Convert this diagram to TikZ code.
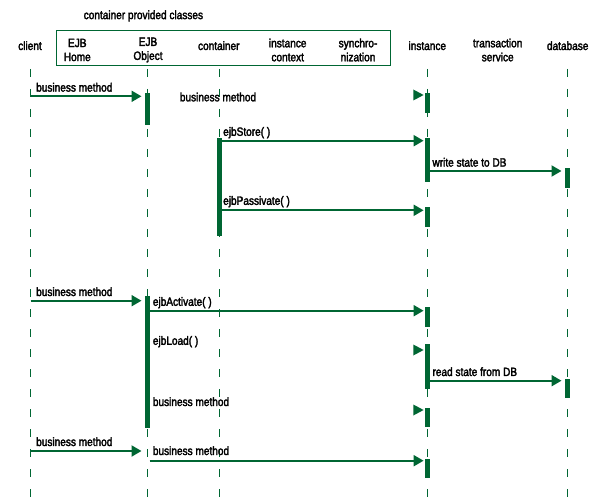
\documentclass[tikz,border=0pt]{standalone}
\usepackage{fontspec}
\setmainfont{Liberation Sans}[FakeStretch=0.84,FakeBold=2.5]
\usetikzlibrary{arrows.meta}
\definecolor{ejbgreen}{RGB}{0,102,51}
\begin{document}
\begin{tikzpicture}[x=1pt,y=-1pt,
  lifeline/.style={draw=ejbgreen, line width=1pt, dash pattern=on 8pt off 12pt},
  msg/.style={draw=ejbgreen, line width=2pt, shorten >=2.5pt, -{Triangle[length=10pt,width=11pt]}},
  actbar/.style={fill=ejbgreen, draw=none, minimum width=4.8pt, inner sep=0pt, rectangle},
  lbl/.style={font=\fontsize{12}{14}\selectfont, inner sep=0pt, anchor=west},
  hdr/.style={font=\fontsize{12}{14}\selectfont, inner sep=0pt, align=center},
  grp/.style={draw=ejbgreen, line width=1.2pt}]
\useasboundingbox (0,0) rectangle (610,500);

% title and group box
\node[hdr] (title) at (143.4,16) {container provided classes};
\draw[grp] (56.3,30.7) rectangle (390.7,65.3);

% headers
\node[hdr] (hclient) at (30,45.7) {client};
\node[hdr] (hhome) at (77.3,50) {EJB\\Home};
\node[hdr] (hobj) at (148,50) {EJB\\Object};
\node[hdr] (hcont) at (218.8,45.7) {container};
\node[hdr] (hctx) at (287.7,50) {instance\\context};
\node[hdr] (hsync) at (358,50) {synchro-\\nization};
\node[hdr] (hinst) at (427.3,45.7) {instance};
\node[hdr] (htx) at (497.7,50) {transaction\\service};
\node[hdr] (hdb) at (567.7,45.7) {database};

% lifelines
\foreach \n/\x in {c/30.7, o/147.5, k/219.3, i/427.5, d/567.3} {
  \coordinate (L\n t) at (\x,69);
  \coordinate (L\n b) at (\x,500);
  \draw[lifeline] (L\n t) -- (L\n b);
}

% activation bars
\node[actbar, minimum height=32pt]   (bO1) at (147.5,109) {};
\node[actbar, minimum height=19.7pt] (bI1) at (427.5,102.9) {};
\node[actbar, minimum height=97.4pt] (bC1) at (219.3,187) {};
\node[actbar, minimum height=44pt]   (bI2) at (427.5,160.3) {};
\node[actbar, minimum height=19.7pt] (bD1) at (567.3,177.9) {};
\node[actbar, minimum height=19.4pt] (bI3) at (427.5,217) {};
\node[actbar, minimum height=132.3pt] (bO2) at (147.5,362.2) {};
\node[actbar, minimum height=19.7pt] (bI4) at (427.5,316.9) {};
\node[actbar, minimum height=45.3pt] (bI5) at (427.5,366.7) {};
\node[actbar, minimum height=19.3pt] (bD2) at (567.3,388.7) {};
\node[actbar, minimum height=19pt]   (bI6) at (427.5,417.8) {};
\node[actbar, minimum height=19.3pt] (bI7) at (427.5,468.7) {};

% message start points
\coordinate (m1) at (30.7,96.3);
\coordinate (m2) at (221.7,140.7);
\coordinate (m3) at (429.9,171);
\coordinate (m4) at (221.7,210.3);
\coordinate (m5) at (30.7,300.7);
\coordinate (m6) at (149.9,310.7);
\coordinate (m7) at (429.9,380.7);
\coordinate (m8) at (30.7,451);
\coordinate (m9) at (149.6,460.7);

% messages
\draw[msg, shorten >=3.4pt] (m1) -- (m1 -| bO1.west);
\draw[msg, shorten >=1.3pt] (m2) -- (m2 -| bI2.west);
\draw[msg, shorten >=3.2pt] (m3) -- (m3 -| bD1.west);
\draw[msg, shorten >=1.3pt] (m4) -- (m4 -| bI3.west);
\draw[msg, shorten >=3.4pt] (m5) -- (m5 -| bO2.west);
\draw[msg, shorten >=1.3pt] (m6) -- (m6 -| bI4.west);
\draw[msg, shorten >=3.2pt] (m7) -- (m7 -| bD2.west);
\draw[msg, shorten >=3.4pt] (m8) -- (m8 -| bO2.west);
\draw[msg, shorten >=1.3pt] (m9) -- (m9 -| bI7.west);

% lone arrowheads
\foreach \y in {95,350,410} {
  \fill[ejbgreen] (413.3,\y-5.5) -- (423.6,\y) -- (413.3,\y+5.5) -- cycle;
}

% labels
\node[lbl] (t1) at (36,87.3) {business method};
\node[lbl] (t2) at (179.7,97) {business method};
\node[lbl] (t3) at (223,132.7) {ejbStore( )};
\node[lbl] (t4) at (432.3,162.3) {write state to DB};
\node[lbl] (t5) at (223,201.7) {ejbPassivate( )};
\node[lbl] (t6) at (36,291.7) {business method};
\node[lbl] (t7) at (152.7,302.7) {ejbActivate( )};
\node[lbl] (t8) at (152.7,341.7) {ejbLoad( )};
\node[lbl] (t9) at (432.3,371.7) {read state from DB};
\node[lbl] (t10) at (152.7,401.7) {business method};
\node[lbl] (t11) at (36,441.7) {business method};
\node[lbl] (t12) at (152.7,450.7) {business method};
\end{tikzpicture}
\end{document}
